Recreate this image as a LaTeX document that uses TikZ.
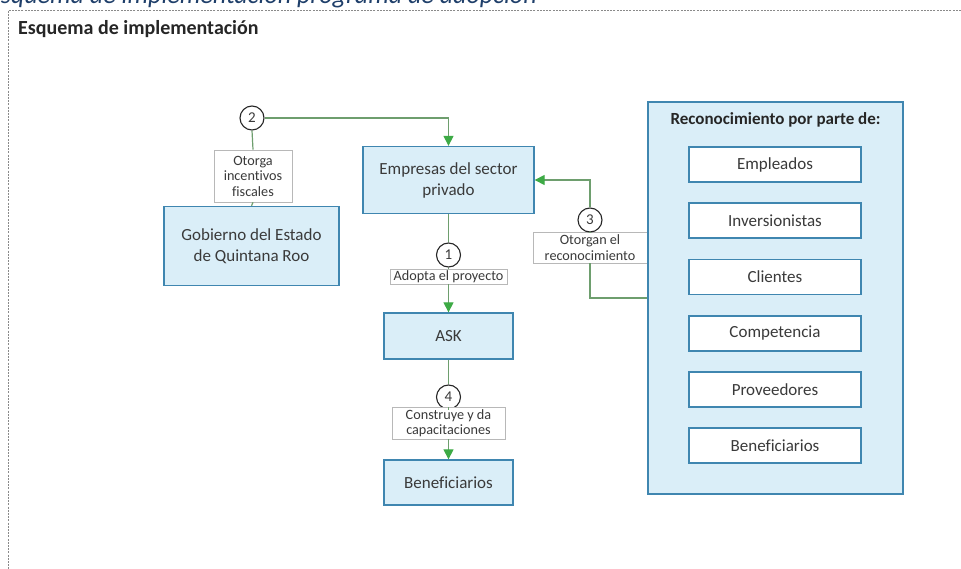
\documentclass[tikz,border=0pt]{standalone}
\usepackage{fontspec}
\setmainfont{Carlito}[Ligatures={NoCommon}]
\usetikzlibrary{arrows.meta}
\definecolor{boxfill}{HTML}{DAEEF8}
\definecolor{boxline}{HTML}{3F86B0}
\definecolor{txt}{HTML}{3A3A3A}
\definecolor{lineg}{HTML}{6E9E6E}
\definecolor{arrowg}{HTML}{3DAA45}
\definecolor{titleblue}{HTML}{1F3F6A}
\definecolor{framegray}{HTML}{8A8A8A}
\tikzset{
  mainbox/.style={draw=boxline, line width=1.3pt, fill=boxfill, text=txt, align=center,
    inner sep=0pt, font=\fontsize{17}{21}\selectfont},
  whitebox/.style={draw=boxline, line width=1.3pt, fill=white, text=txt, align=center,
    inner sep=0pt, minimum width=172pt, minimum height=35pt, font=\fontsize{17}{20}\selectfont},
  labelbox/.style={draw=black!28, line width=0.7pt, fill=white, text=txt, align=center,
    inner sep=0pt, font=\fontsize{14.2}{15.5}\selectfont},
  numc/.style={circle, draw=black!85, line width=1.1pt, fill=white, minimum size=24pt,
    inner sep=0pt, text=txt, font=\fontsize{15}{16}\selectfont},
  conn/.style={draw=lineg, line width=1.2pt},
  arr/.style={-{Triangle[length=10pt,width=10pt,color=arrowg]}},
}
\begin{document}
\begin{tikzpicture}[x=1pt,y=-1pt]
\useasboundingbox (0,0) rectangle (961,569);
% top cut title
\node[anchor=base west, inner sep=0pt, text=titleblue, font=\fontsize{26}{30}\selectfont\itshape] (toptitle) at (-12,4) {Esquema de implementación programa de adopción};
% dashed frame
\draw[framegray, line width=0.8pt, dash pattern=on 2pt off 1.2pt] (961,10) -- (8,10) -- (8,569);
\node[anchor=west, inner sep=0pt, text=black!85, font=\fontsize{20}{22}\selectfont\bfseries] (head) at (18,29) {Esquema de implementación};

% left column
\node[numc] (c2) at (252,118) {2};
\node[labelbox, minimum width=78pt, minimum height=52pt] (otorga) at (253,176) {Otorga\\incentivos\\fiscales};
\node[mainbox, minimum width=175pt, minimum height=79pt] (gob) at (251.5,246) {Gobierno del Estado\\de Quintana Roo};

% center column
\node[mainbox, minimum width=171pt, minimum height=67pt] (emp) at (448.5,180) {Empresas del sector\\privado};
\node[numc] (c1) at (448.5,255) {1};
\node[labelbox, minimum width=117pt, minimum height=15pt] (adopta) at (448.5,276.5) {Adopta el proyecto};
\node[mainbox, minimum width=129pt, minimum height=46pt] (ask) at (448.5,336) {ASK};
\node[numc] (c4) at (448.5,397) {4};
\node[labelbox, minimum width=113pt, minimum height=32pt] (cons) at (448.5,423) {Construye y da\\capacitaciones};
\node[mainbox, minimum width=129pt, minimum height=45pt] (ben) at (448.5,482.5) {Beneficiarios};

% number 3
\node[labelbox, minimum width=114pt, minimum height=31pt] (otg) at (590,247.5) {Otorgan el\\reconocimiento};
\node[numc] (c3) at (590,220) {3};

% right panel
\node[mainbox, minimum width=255pt, minimum height=392pt] (rec) at (775.5,298) {};
\node[inner sep=0pt, text=black!85, font=\fontsize{17}{19}\selectfont\bfseries] (rectitle) at (775.5,120) {Reconocimiento por parte de:};
\node[whitebox] (r1) at (775,164.5) {Empleados};
\node[whitebox] (r2) at (775,220.5) {Inversionistas};
\node[whitebox] (r3) at (775,277) {Clientes};
\node[whitebox] (r4) at (775,333.5) {Competencia};
\node[whitebox] (r5) at (775,389.5) {Proveedores};
\node[whitebox] (r6) at (775,445.5) {Beneficiarios};

% connectors
\draw[conn, arr] (c2.east) -| (emp.north);
\draw[conn] (c2.south) -- (otorga.north);
\draw[conn] (otorga.south) -- (gob.north);
\draw[conn] (emp.south) -- (c1.north);
\draw[conn] (c1.south) -- (adopta.north);
\draw[conn, arr] (adopta.south) -- (ask.north);
\draw[conn] (ask.south) -- (c4.north);
\draw[conn] (c4.south) -- (cons.north);
\draw[conn, arr] (cons.south) -- (ben.north);
\draw[conn] (rec.west) -| (otg.south);
\draw[conn] (otg.north) -- (c3.south);
\draw[conn, arr] (c3.north) |- (emp.east);
\end{tikzpicture}
\end{document}
